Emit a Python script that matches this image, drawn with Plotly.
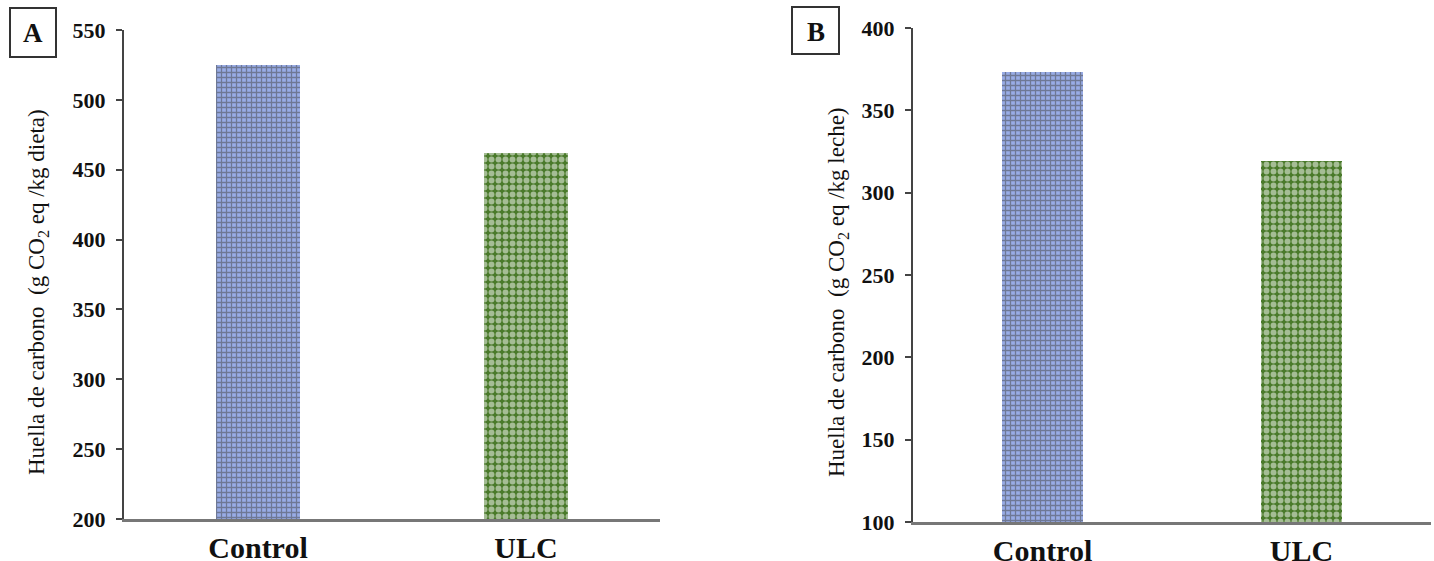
import plotly.graph_objects as go

categories = ["Control", "ULC"]
values_a = [525, 462]
values_b = [373, 319]
yticks_a = [200, 250, 300, 350, 400, 450, 500, 550]
yticks_b = [100, 150, 200, 250, 300, 350, 400]
panel_labels = ["A", "B"]
ytitle_a = "Huella de carbono  (g CO<sub>2</sub> eq /kg dieta)"
ytitle_b = "Huella de carbono  (g CO<sub>2</sub> eq /kg leche)"

W, H = 1434, 561
def px(x): return x / W
def py(y): return 1 - y / H

fig = go.Figure()
for vals, xa, ya in [(values_a, "x", "y"), (values_b, "x2", "y2")]:
    fig.add_trace(go.Bar(
        x=categories, y=vals, xaxis=xa, yaxis=ya, width=0.315,
        marker=dict(color=["#98ace6", "#4a7a2a"], line=dict(width=0),
                    pattern=dict(shape=["+", "."], fgcolor=["#4059c0", "#5f9140"],
                                 bgcolor=["#98ace6", "#4a7a2a"], size=[5, 7],
                                 solidity=[0.45, 0.55])),
        showlegend=False, hoverinfo="x+y"))

tickfont = dict(family="Liberation Serif", size=22, color="#111", weight="bold")
catfont = dict(family="Liberation Serif", size=30, color="#111")

def xaxis(domain, anchor):
    return dict(domain=domain, showline=True, linecolor="#777", linewidth=3,
                ticks="", tickfont=catfont, automargin=False, fixedrange=True,
                tickmode="array", tickvals=categories,
                ticktext=["<b>" + c + "</b>" for c in categories],
                showgrid=False, zeroline=False, anchor=anchor, ticklabelstandoff=0)

def yaxis(domain, rng, tv, anchor):
    return dict(domain=domain, range=rng, tickvals=tv, showline=True, linecolor="#444",
                linewidth=2, ticks="outside", ticklen=6, tickwidth=2, tickcolor="#444",
                tickfont=tickfont, showgrid=False, zeroline=False, automargin=False,
                anchor=anchor, ticklabelstandoff=6, fixedrange=True)

fig.update_layout(
    width=W, height=H, margin=dict(l=0, r=0, t=0, b=0),
    plot_bgcolor="white", paper_bgcolor="white", bargap=0,
    font=dict(family="Liberation Serif", size=16, color="#111"),
    xaxis=xaxis([px(124), px(660)], "y"),
    yaxis=yaxis([py(519), py(30)], [200, 550], yticks_a, "x"),
    xaxis2=xaxis([px(913), px(1431)], "y2"),
    yaxis2=yaxis([py(522), py(28)], [100, 400], yticks_b, "x2"),
)

annotations = [
    dict(text=ytitle_a, x=px(38), y=py(292), textangle=-90),
    dict(text=ytitle_b, x=px(838), y=py(292), textangle=-90),
]
for a in annotations:
    a.update(xref="paper", yref="paper", showarrow=False, xanchor="center", yanchor="middle",
             font=dict(family="Liberation Serif", size=23, color="#111"))

boxes = [(10, 8, 56, 57), (792, 7, 839, 54)]
for lab, (x0, y0, x1, y1) in zip(panel_labels, boxes):
    fig.add_shape(type="rect", xref="paper", yref="paper", x0=px(x0), x1=px(x1),
                  y0=py(y1), y1=py(y0), line=dict(color="#333", width=2), fillcolor="white")
    annotations.append(dict(text="<b>" + lab + "</b>", x=px((x0 + x1) / 2), y=py((y0 + y1) / 2 + 1),
                            xref="paper", yref="paper", showarrow=False, xanchor="center",
                            yanchor="middle", font=dict(family="Liberation Serif", size=27, color="#111")))
fig.update_layout(annotations=annotations)

fig.write_html("out.html", config={"displayModeBar": False},
               post_script="document.body.style.margin='0';document.body.style.overflow='hidden';")
